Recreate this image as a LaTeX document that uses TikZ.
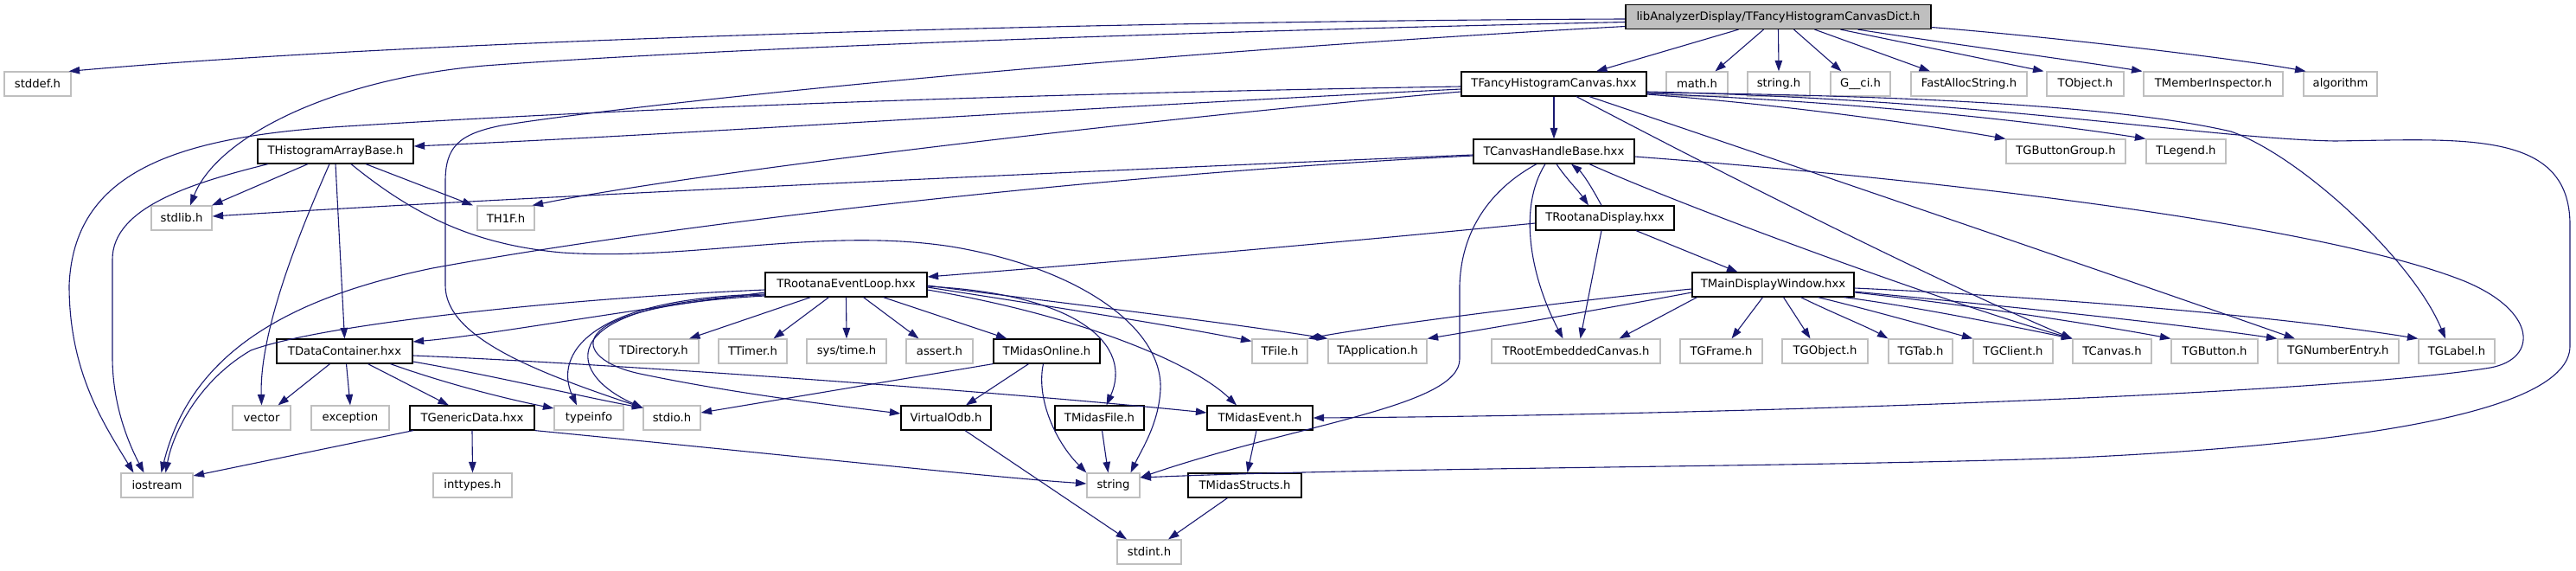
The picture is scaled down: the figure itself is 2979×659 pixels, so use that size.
\documentclass[tikz,border=0pt]{standalone}
\usepackage{fontspec}
\setmainfont{DejaVu Sans}
\usetikzlibrary{arrows.meta}
\definecolor{edgecol}{HTML}{191970}
\definecolor{graybd}{HTML}{BFBFBF}
\definecolor{rootfill}{HTML}{BFBFBF}
\newcommand{\nfs}{\fontsize{13.2}{15}\selectfont}
\tikzset{
  nb/.style={draw=black, line width=1.2pt, fill=white, minimum height=28pt, inner sep=0pt, font=\nfs, text=black},
  gb/.style={nb, draw=graybd},
  rb/.style={nb, fill=rootfill},
  edge/.style={draw=edgecol, line width=1.1pt, -{Triangle[length=12.5pt,width=8.5pt]}, fill=none}
}
\begin{document}
\begin{tikzpicture}[x=1pt,y=-1pt]
\useasboundingbox (0,0) rectangle (2979,659);
% row 1
\node[rb, minimum width=353pt] (root) at (2056.5,19.5) {libAnalyzerDisplay/TFancyHistogramCanvasDict.h};
% row 2
\node[gb, minimum width=77pt] (stddef) at (43.5,97) {stddef.h};
\node[nb, minimum width=214pt] (tfhc) at (1797,97) {TFancyHistogramCanvas.hxx};
\node[gb, minimum width=71pt] (math) at (1962.5,97) {math.h};
\node[gb, minimum width=72pt] (stringh) at (2057,97) {string.h};
\node[gb, minimum width=69pt] (gci) at (2151.5,97) {G\_\_ci.h};
\node[gb, minimum width=134pt] (fast) at (2277,97) {FastAllocString.h};
\node[gb, minimum width=89pt] (tobject) at (2411.5,97) {TObject.h};
\node[gb, minimum width=161pt] (tmi) at (2559.5,97) {TMemberInspector.h};
\node[gb, minimum width=85pt] (algo) at (2706.5,97) {algorithm};
% row 3
\node[nb, minimum width=180pt] (thab) at (388,175) {THistogramArrayBase.h};
\node[nb, minimum width=186pt] (tchb) at (1797,175) {TCanvasHandleBase.hxx};
\node[gb, minimum width=138pt] (tgbg) at (2389,175) {TGButtonGroup.h};
\node[gb, minimum width=92pt] (tlegend) at (2528,175) {TLegend.h};
% row 3b
\node[gb, minimum width=70pt] (stdlib) at (210,252) {stdlib.h};
\node[gb, minimum width=66pt] (th1f) at (585,252) {TH1F.h};
\node[nb, minimum width=160pt] (trd) at (1856,252) {TRootanaDisplay.hxx};
% row 4
\node[nb, minimum width=187pt] (trel) at (978.5,329) {TRootanaEventLoop.hxx};
\node[nb, minimum width=187pt] (tmdw) at (2050.5,329) {TMainDisplayWindow.hxx};
% row 5
\node[nb, minimum width=157pt] (tdc) at (398.5,406) {TDataContainer.hxx};
\node[gb, minimum width=104pt] (tdir) at (756,406) {TDirectory.h};
\node[gb, minimum width=79pt] (ttimer) at (870.5,406) {TTimer.h};
\node[gb, minimum width=92pt] (systime) at (979,406) {sys/time.h};
\node[gb, minimum width=77pt] (assert) at (1086.5,406) {assert.h};
\node[nb, minimum width=123pt] (tmo) at (1210.5,406) {TMidasOnline.h};
\node[gb, minimum width=64pt] (tfile) at (1480,406) {TFile.h};
\node[gb, minimum width=114pt] (tapp) at (1593,406) {TApplication.h};
\node[gb, minimum width=195pt] (trec) at (1822.5,406) {TRootEmbeddedCanvas.h};
\node[gb, minimum width=95pt] (tgframe) at (1990.5,406) {TGFrame.h};
\node[gb, minimum width=99pt] (tgobject) at (2110.5,406) {TGObject.h};
\node[gb, minimum width=74pt] (tgtab) at (2221,406) {TGTab.h};
\node[gb, minimum width=92pt] (tgclient) at (2328,406) {TGClient.h};
\node[gb, minimum width=91pt] (tcanvas) at (2442.5,406) {TCanvas.h};
\node[gb, minimum width=100pt] (tgbutton) at (2561,406) {TGButton.h};
\node[gb, minimum width=140pt] (tgne) at (2704,406) {TGNumberEntry.h};
\node[gb, minimum width=88pt] (tglabel) at (2841,406) {TGLabel.h};
% row 6
\node[gb, minimum width=67pt] (vector) at (302.5,483) {vector};
\node[gb, minimum width=90pt] (exception) at (405,483) {exception};
\node[nb, minimum width=144pt] (tgd) at (546,483) {TGenericData.hxx};
\node[gb, minimum width=80pt] (typeinfo) at (681,483) {typeinfo};
\node[gb, minimum width=66pt] (stdio) at (777,483) {stdio.h};
\node[nb, minimum width=104pt] (vodb) at (1094,483) {VirtualOdb.h};
\node[nb, minimum width=103pt] (tmf) at (1271.5,483) {TMidasFile.h};
\node[nb, minimum width=122pt] (tme) at (1457,483) {TMidasEvent.h};
% row 7
\node[gb, minimum width=83pt] (iostream) at (181.5,561) {iostream};
\node[gb, minimum width=91pt] (inttypes) at (546.5,561) {inttypes.h};
\node[gb, minimum width=61pt] (string) at (1287.5,561) {string};
\node[nb, minimum width=131pt] (tms) at (1439.5,561) {TMidasStructs.h};
% row 8
\node[gb, minimum width=74pt] (stdint) at (1329,638) {stdint.h};

% ---- edges from root
\draw[edge] ([yshift=-2.5pt]root.west) .. controls (1300,24) and (500,45) .. ([xshift=-3pt]stddef.north east);
\draw[edge] ([yshift=-6pt]root.west) .. controls (1300,38) and (800,58) .. (560,76) .. controls (380,92) and (250,160) .. ([xshift=10pt]stdlib.north);
\draw[edge] ([yshift=-11pt]root.west) .. controls (1300,62) and (750,118) .. (580,145) .. controls (530,155) and (515,170) .. (515,210) -- (515,330) .. controls (515,390) and (620,430) .. ([yshift=-3pt]stdio.north west);
\draw[edge] ([xshift=-46pt]root.south) -- ([xshift=49pt]tfhc.north);
\draw[edge] ([xshift=-17pt]root.south) -- ([xshift=21pt]math.north);
\draw[edge] (root.south) -- (stringh.north);
\draw[edge] ([xshift=18pt]root.south) -- ([xshift=-22pt]gci.north);
\draw[edge] ([xshift=42pt]root.south) -- ([xshift=-45pt]fast.north);
\draw[edge] ([xshift=72pt]root.south) -- ([xshift=-48pt]tobject.north);
\draw[edge] ([xshift=92pt]root.south) .. controls (2250,50) and (2400,70) .. ([xshift=-82pt]tmi.north);
\draw[edge] ([yshift=-12pt]root.east) .. controls (2400,45) and (2600,70) .. ([xshift=-40pt]algo.north);
% ---- from TFancyHistogramCanvas
\draw[edge] (tfhc.south) -- (tchb.north);
\draw[edge] ([yshift=-3pt]tfhc.west) .. controls (1200,108) and (750,124) .. (400,146) .. controls (200,158) and (85,200) .. (80,330) .. controls (80,430) and (120,490) .. ([xshift=-27pt]iostream.north);
\draw[edge] ([yshift=-6pt]tfhc.west) .. controls (1200,127) and (800,155) .. ([yshift=6pt]thab.east);
\draw[edge] ([yshift=-9pt]tfhc.west) .. controls (1300,140) and (800,200) .. ([xshift=-3pt]th1f.north east);
\draw[edge] ([yshift=-12pt]tfhc.east) .. controls (2050,120) and (2200,140) .. (tgbg.north west);
\draw[edge] ([yshift=-11pt]tfhc.east) .. controls (2150,118) and (2350,140) .. (tlegend.north west);
\draw[edge] ([yshift=-10pt]tfhc.east) .. controls (2200,110) and (2450,122) .. (2580,152) .. controls (2660,180) and (2790,300) .. ([xshift=-13pt]tglabel.north);
\draw[edge] ([yshift=-9pt]tfhc.east) .. controls (2300,115) and (2550,160) .. (2700,163) .. controls (2850,161) and (2972,150) .. (2972,260) -- (2972,400) .. controls (2972,480) and (2700,515) .. (2400,529) .. controls (2100,540) and (1600,540) .. ([yshift=9pt]string.east);
\draw[edge] ([xshift=41pt]tfhc.south) .. controls (2100,200) and (2450,320) .. ([xshift=-50pt]tgne.north);
\draw[edge] ([xshift=26pt]tfhc.south) .. controls (2000,205) and (2250,330) .. (tcanvas.north west);
% ---- from TCanvasHandleBase
\draw[edge] ([xshift=3pt]tchb.south) .. controls (1810,205) and (1825,220) .. ([xshift=-19pt]trd.north);
\draw[edge] ([xshift=41pt]tchb.south) .. controls (1950,240) and (2250,350) .. (tcanvas.north west);
\draw[edge] ([yshift=-4pt]tchb.west) .. controls (1200,200) and (600,228) .. ([yshift=2pt]stdlib.east);
\draw[edge] ([yshift=-5pt]tchb.west) .. controls (1300,200) and (800,255) .. (500,310) .. controls (330,345) and (220,410) .. ([xshift=5pt]iostream.north);
\draw[edge] ([xshift=-20pt]tchb.south) .. controls (1730,215) and (1690,260) .. (1688,330) -- (1688,415) .. controls (1688,470) and (1500,490) .. ([yshift=9pt]string.east);
\draw[edge] ([xshift=-10pt]tchb.south) .. controls (1755,240) and (1770,320) .. ([xshift=-15pt]trec.north);
\draw[edge] ([yshift=-6pt]tchb.east) .. controls (2300,212) and (2700,265) .. (2850,325) .. controls (2935,360) and (2935,415) .. (2880,425) .. controls (2700,455) and (2000,480) .. (tme.east);
% ---- from TRootanaDisplay
\draw[edge] ([xshift=-4pt]trd.north) .. controls (1840,215) and (1830,200) .. ([xshift=20pt]tchb.south);
\draw[edge] ([yshift=-6pt]trd.west) .. controls (1500,285) and (1250,306) .. ([yshift=9pt]trel.east);
\draw[edge] ([xshift=-4pt]trd.south) -- ([xshift=5pt]trec.north);
\draw[edge] ([xshift=36pt]trd.south) -- ([xshift=-41pt]tmdw.north);
% ---- from TMainDisplayWindow
\draw[edge] ([yshift=-5pt]tmdw.west) .. controls (1850,344) and (1600,375) .. (tfile.north east);
\draw[edge] ([yshift=-9pt]tmdw.west) .. controls (1850,358) and (1720,380) .. (tapp.north east);
\draw[edge] ([xshift=-88pt]tmdw.south) -- ([xshift=50pt]trec.north);
\draw[edge] ([xshift=-12pt]tmdw.south) -- ([xshift=12pt]tgframe.north);
\draw[edge] ([xshift=12pt]tmdw.south) -- ([xshift=-17pt]tgobject.north);
\draw[edge] ([xshift=32pt]tmdw.south) .. controls (2120,362) and (2160,378) .. (tgtab.north west);
\draw[edge] ([xshift=52pt]tmdw.south) .. controls (2170,360) and (2240,380) .. (tgclient.north west);
\draw[edge] ([xshift=82pt]tmdw.south) .. controls (2220,355) and (2340,380) .. (tcanvas.north west);
\draw[edge] ([yshift=-9pt]tmdw.east) .. controls (2300,355) and (2450,380) .. (tgbutton.north west);
\draw[edge] ([yshift=-8pt]tmdw.east) .. controls (2300,352) and (2500,372) .. (tgne.north west);
\draw[edge] ([yshift=-4pt]tmdw.east) .. controls (2300,340) and (2600,360) .. (tglabel.north west);
% ---- from TRootanaEventLoop
\draw[edge] ([yshift=-6pt]trel.west) .. controls (650,345) and (370,375) .. (290,405) .. controls (230,440) and (200,500) .. ([xshift=10pt]iostream.north);
\draw[edge] ([yshift=-9pt]trel.west) .. controls (700,362) and (560,388) .. ([yshift=11pt]tdc.east);
\draw[edge] ([yshift=-11pt]trel.west) .. controls (680,345) and (640,410) .. ([xshift=-14pt]typeinfo.north);
\draw[edge] ([yshift=-12pt]trel.west) .. controls (640,350) and (650,430) .. ([yshift=-3pt]stdio.north west);
\draw[edge] ([yshift=-13pt]trel.west) .. controls (640,355) and (660,415) .. (740,432) .. controls (850,455) and (960,468) .. ([yshift=5pt]vodb.west);
\draw[edge] ([xshift=-41pt]trel.south) -- ([xshift=41pt]tdir.north);
\draw[edge] ([xshift=-20pt]trel.south) -- ([xshift=24pt]ttimer.north);
\draw[edge] (trel.south) -- (systime.north);
\draw[edge] ([xshift=20pt]trel.south) -- ([xshift=-24pt]assert.north);
\draw[edge] ([xshift=43pt]trel.south) -- ([xshift=-46pt]tmo.north);
\draw[edge] ([yshift=-3pt]trel.east) .. controls (1200,352) and (1350,375) .. ([yshift=-3pt]tfile.north west);
\draw[edge] ([yshift=-1pt]trel.east) .. controls (1200,347) and (1400,370) .. (tapp.north west);
\draw[edge] ([yshift=-2pt]trel.east) .. controls (1250,340) and (1310,400) .. ([xshift=8pt]tmf.north);
\draw[edge] ([yshift=-6pt]trel.east) .. controls (1250,365) and (1380,420) .. ([xshift=-27pt]tme.north);
% ---- from TDataContainer
\draw[edge] ([xshift=-17pt]tdc.south) -- ([xshift=19pt]vector.north);
\draw[edge] ([xshift=2pt]tdc.south) -- (exception.north);
\draw[edge] ([xshift=27pt]tdc.south) -- ([xshift=-27pt]tgd.north);
\draw[edge] ([yshift=-5pt]tdc.east) .. controls (700,420) and (1150,452) .. ([yshift=6pt]tme.west);
\draw[edge] ([xshift=53pt]tdc.south) .. controls (520,445) and (590,462) .. ([yshift=11pt]typeinfo.west);
\draw[edge] ([yshift=-12pt]tdc.east) .. controls (560,432) and (680,460) .. ([yshift=-3pt]stdio.north west);
% ---- from TGenericData
\draw[edge] ([xshift=-68pt]tgd.south) -- ([yshift=11pt]iostream.east);
\draw[edge] (tgd.south) -- (inttypes.north);
\draw[edge] (tgd.south east) .. controls (900,525) and (1150,552) .. ([yshift=2pt]string.west);
% ---- from THistogramArrayBase
\draw[edge] ([xshift=-78pt]thab.south) .. controls (220,212) and (130,240) .. (130,300) -- (130,413) .. controls (130,470) and (150,515) .. ([xshift=-15pt]iostream.north);
\draw[edge] ([xshift=-32pt]thab.south) -- ([xshift=35pt]stdlib.north);
\draw[edge] ([xshift=-7pt]thab.south) .. controls (350,260) and (300,380) .. (vector.north);
\draw[edge] (thab.south) -- (tdc.north);
\draw[edge] ([xshift=18pt]thab.south) .. controls (480,250) and (550,283) .. (650,292) .. controls (800,302) and (950,262) .. (1100,285) .. controls (1250,310) and (1345,380) .. (1342,450) .. controls (1340,490) and (1320,520) .. ([xshift=20pt]string.north);
\draw[edge] ([xshift=35pt]thab.south) -- ([xshift=-38pt]th1f.north);
% ---- from TMidasOnline
\draw[edge] (tmo.south west) -- ([yshift=6pt]stdio.east);
\draw[edge] ([xshift=-21pt]tmo.south) -- ([xshift=23pt]vodb.north);
\draw[edge] ([xshift=-4pt]tmo.south) .. controls (1198,460) and (1220,510) .. (string.north west);
% ---- others
\draw[edge] ([xshift=3pt]tmf.south) -- ([xshift=-6pt]string.north);
\draw[edge] ([xshift=-4pt]tme.south) -- ([xshift=3pt]tms.north);
\draw[edge] ([xshift=-20pt]tms.south) -- ([xshift=22pt]stdint.north);
\draw[edge] ([xshift=22pt]vodb.south) -- ([xshift=-26pt]stdint.north);
\end{tikzpicture}
\end{document}
